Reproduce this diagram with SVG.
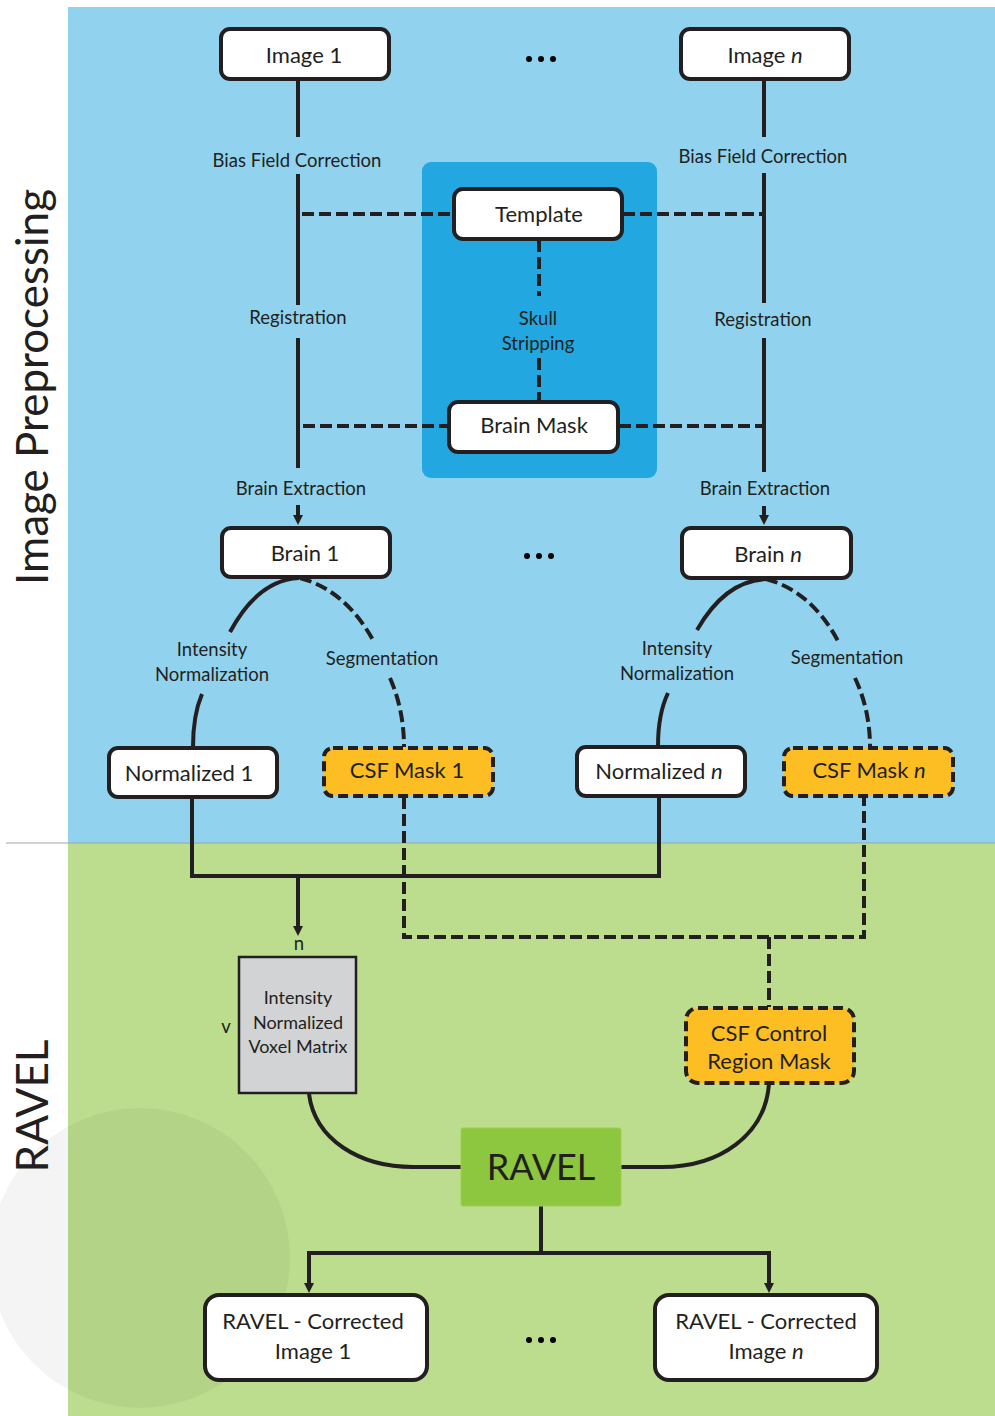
<svg xmlns="http://www.w3.org/2000/svg" width="995" height="1416" viewBox="0 0 995 1416">
<defs>
<style>
text{font-family:"Lato","Open Sans","Liberation Sans",sans-serif;fill:#231F20;text-anchor:middle}
.box{fill:#fff;stroke:#231F20;stroke-width:4}
.mask{fill:#FDBE24;stroke:#231F20;stroke-width:4;stroke-dasharray:10 5}
.ln{fill:none;stroke:#231F20;stroke-width:4}
.dl{fill:none;stroke:#231F20;stroke-width:4;stroke-dasharray:12 5}
.bt{font-size:22px}
.lb{font-size:18.5px}
.ms{font-size:18px}
</style>
<marker id="ah" viewBox="0 0 10 10" refX="2" refY="5" markerWidth="10" markerHeight="10" markerUnits="userSpaceOnUse" orient="auto">
<path d="M0,0 L10,5 L0,10 Z" fill="#231F20"/>
</marker>
</defs>
<rect x="0" y="0" width="995" height="1416" fill="#fff"/>
<rect x="68" y="7" width="927" height="836" fill="#91D3EE"/>
<rect x="68" y="843" width="927" height="573" fill="#BCDD8E"/>
<line x1="6" y1="843" x2="995" y2="843" stroke="#9aa7ad" stroke-width="1"/>
<circle cx="140" cy="1258" r="150" fill="#000" opacity="0.045"/>
<text transform="translate(48,387) rotate(-90)" style="font-size:44px">Image Preprocessing</text>
<text transform="translate(48,1106) rotate(-90)" style="font-size:44px">RAVEL</text>
<rect x="422" y="162" width="235" height="316" rx="9" fill="#22A7E0"/>

<g id="connectors">
<path class="ln" d="M298,80 V137 M298,174 V305 M298,338 V468"/>
<path class="ln" d="M298,505 V517" marker-end="url(#ah)"/>
<path class="ln" d="M764,80 V137 M764,173 V303 M764,338 V472"/>
<path class="ln" d="M764,506 V517" marker-end="url(#ah)"/>
<path class="dl" d="M302,214 H453 M623,214 H762"/>
<path class="dl" d="M303,426 H448 M619,426 H762"/>
<path class="dl" d="M539,240 V296 M539,358 V401"/>
<path class="ln" d="M299,578 Q258,580 230,632 M202,694 Q193,715 193,747"/>
<path class="dl" d="M300,578 Q345,590 373,640 M390,678 Q404,710 404,747"/>
<path class="ln" d="M766,579 Q725,581 697,630 M668,693 Q658,714 658,746"/>
<path class="dl" d="M766,579 Q811,591 838,641 M855,678 Q870,710 870,747"/>
<path class="ln" d="M192,798 V876 H659 V797"/>
<path class="ln" d="M298,876 V928" marker-end="url(#ah)"/>
<path class="dl" d="M404,797 V937 H864 V797"/>
<path class="dl" d="M769,937 V1007"/>
<path class="ln" d="M309,1094 C315,1140 360,1167 413,1167 H461"/>
<path class="ln" d="M769,1084 C765,1135 720,1167 662,1167 H621"/>
<path class="ln" d="M541,1206 V1253 M309,1253 H769"/>
<path class="ln" d="M309,1251 V1285" marker-end="url(#ah)"/>
<path class="ln" d="M769,1251 V1285" marker-end="url(#ah)"/>
</g>

<g id="labels">
<text class="lb" x="297" y="167">Bias Field Correction</text>
<text class="lb" x="763" y="163">Bias Field Correction</text>
<text class="lb" x="298" y="324">Registration</text>
<text class="lb" x="763" y="326">Registration</text>
<text class="lb" x="301" y="495">Brain Extraction</text>
<text class="lb" x="765" y="495">Brain Extraction</text>
<text class="lb" x="538" y="325">Skull</text>
<text class="lb" x="538" y="350">Stripping</text>
<text class="lb" x="212" y="656">Intensity</text>
<text class="lb" x="212" y="681">Normalization</text>
<text class="lb" x="382" y="665">Segmentation</text>
<text class="lb" x="677" y="655">Intensity</text>
<text class="lb" x="677" y="680">Normalization</text>
<text class="lb" x="847" y="664">Segmentation</text>
<text class="lb" x="299" y="950">n</text>
<text class="lb" x="226" y="1033">v</text>
</g>

<g id="dots">
<circle cx="529" cy="59" r="3"/><circle cx="541" cy="59" r="3"/><circle cx="553" cy="59" r="3"/>
<circle cx="527" cy="556" r="3"/><circle cx="539" cy="556" r="3"/><circle cx="551" cy="556" r="3"/>
<circle cx="529" cy="1340" r="3"/><circle cx="541" cy="1340" r="3"/><circle cx="553" cy="1340" r="3"/>
</g>

<g id="image1"><rect class="box" x="221" y="29" width="168" height="50" rx="9"/><text class="bt" x="304" y="63">Image 1</text></g>
<g id="imagen"><rect class="box" x="681" y="29" width="168" height="50" rx="9"/><text class="bt" x="765" y="63">Image <tspan font-style="italic">n</tspan></text></g>
<g id="template"><rect class="box" x="454" y="189" width="168" height="50" rx="9"/><text class="bt" x="539" y="222">Template</text></g>
<g id="brainmask"><rect class="box" x="449" y="402" width="169" height="50" rx="9"/><text class="bt" x="534" y="433">Brain Mask</text></g>
<g id="brain1"><rect class="box" x="222" y="528" width="168" height="49" rx="9"/><text class="bt" x="305" y="561">Brain 1</text></g>
<g id="brainn"><rect class="box" x="682" y="528" width="169" height="50" rx="9"/><text class="bt" x="768" y="562">Brain <tspan font-style="italic">n</tspan></text></g>
<g id="normalized1"><rect class="box" x="109" y="748" width="168" height="49" rx="9"/><text class="bt" x="189" y="781">Normalized 1</text></g>
<g id="csfmask1"><rect class="mask" x="324" y="748" width="169" height="48" rx="9"/><text class="bt" x="407" y="778">CSF Mask 1</text></g>
<g id="normalizedn"><rect class="box" x="577" y="747" width="168" height="49" rx="9"/><text class="bt" x="659" y="779">Normalized <tspan font-style="italic">n</tspan></text></g>
<g id="csfmaskn"><rect class="mask" x="784" y="748" width="169" height="48" rx="9"/><text class="bt" x="869" y="778">CSF Mask <tspan font-style="italic">n</tspan></text></g>
<g id="matrix"><rect x="239" y="957" width="117" height="136" fill="#D1D3D4" stroke="#231F20" stroke-width="2.5"/>
<text class="ms" x="298" y="1004">Intensity</text><text class="ms" x="298" y="1029">Normalized</text><text class="ms" x="298" y="1053">Voxel Matrix</text></g>
<g id="csfcontrol"><rect class="mask" x="686" y="1008" width="168" height="75" rx="12"/>
<text class="bt" x="769" y="1041">CSF Control</text><text class="bt" x="769" y="1069">Region Mask</text></g>
<g id="ravel"><rect x="461" y="1128" width="160" height="78" rx="2" fill="#8DC63F" stroke="#9fd04f" stroke-width="1"/><text x="541" y="1180" style="font-size:36px">RAVEL</text></g>
<g id="corrected1"><rect class="box" x="205" y="1295" width="222" height="85" rx="14"/>
<text class="bt" x="313" y="1329">RAVEL - Corrected</text><text class="bt" x="313" y="1359">Image 1</text></g>
<g id="correctedn"><rect class="box" x="655" y="1295" width="222" height="85" rx="14"/>
<text class="bt" x="766" y="1329">RAVEL - Corrected</text><text class="bt" x="766" y="1359">Image <tspan font-style="italic">n</tspan></text></g>
</svg>
